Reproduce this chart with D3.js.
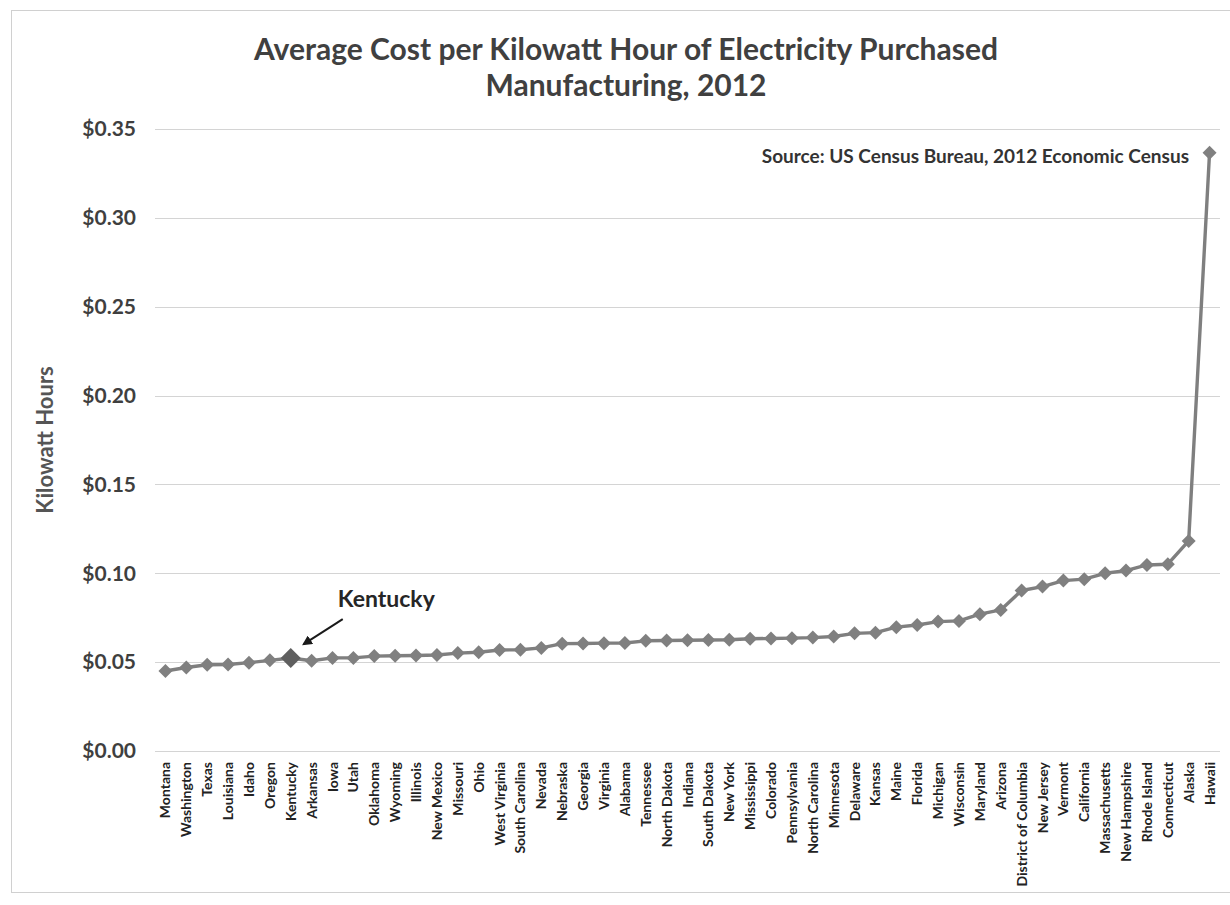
<!DOCTYPE html>
<html>
<head>
<meta charset="utf-8">
<script src="https://cdn.jsdelivr.net/npm/d3@7"></script>
<style>
  html, body { margin: 0; padding: 0; background: #fff; }
  svg { display: block; font-family: Lato, "Open Sans", sans-serif; }
</style>
</head>
<body>
<svg id="chart" width="1230" height="905"></svg>
<script>
// States sorted by average cost of purchased electricity (manufacturing, 2012)
const states = [
  "Montana", "Washington", "Texas", "Louisiana", "Idaho", "Oregon", "Kentucky",
  "Arkansas", "Iowa", "Utah", "Oklahoma", "Wyoming", "Illinois", "New Mexico",
  "Missouri", "Ohio", "West Virginia", "South Carolina", "Nevada", "Nebraska",
  "Georgia", "Virginia", "Alabama", "Tennessee", "North Dakota", "Indiana",
  "South Dakota", "New York", "Mississippi", "Colorado", "Pennsylvania",
  "North Carolina", "Minnesota", "Delaware", "Kansas", "Maine", "Florida",
  "Michigan", "Wisconsin", "Maryland", "Arizona", "District of Columbia",
  "New Jersey", "Vermont", "California", "Massachusetts", "New Hampshire",
  "Rhode Island", "Connecticut", "Alaska", "Hawaii"
];

// Dollars per kilowatt hour
const costPerKwh = [
  0.0450, 0.0470, 0.0485, 0.0487, 0.0497, 0.0510, 0.0523,
  0.0508, 0.0524, 0.0524, 0.0534, 0.0536, 0.0537, 0.0540,
  0.0551, 0.0556, 0.0568, 0.0570, 0.0580, 0.0604,
  0.0605, 0.0607, 0.0608, 0.0620, 0.0622, 0.0623,
  0.0625, 0.0626, 0.0632, 0.0633, 0.0635,
  0.0638, 0.0644, 0.0662, 0.0666, 0.0697, 0.0709,
  0.0728, 0.0732, 0.0770, 0.0794, 0.0903,
  0.0925, 0.0959, 0.0967, 0.1000, 0.1015,
  0.1047, 0.1051, 0.1182, 0.3367
];

const yTicks = [0, 0.05, 0.10, 0.15, 0.20, 0.25, 0.30, 0.35];
const highlight = "Kentucky";

const svg = d3.select("#chart");
const W = 1230, H = 905;
const margin = { left: 155, right: 10, top: 129, bottom: 154 };
const plotW = W - margin.left - margin.right;
const plotH = H - margin.top - margin.bottom;

// outer frame
svg.append("rect")
  .attr("x", 11.5).attr("y", 10.5)
  .attr("width", 1220).attr("height", 882)
  .attr("fill", "none").attr("stroke", "#d0d0d0").attr("stroke-width", 1);

const g = svg.append("g").attr("transform", `translate(${margin.left},${margin.top})`);

const x = d3.scaleBand().domain(states).range([0, plotW]).padding(0);
const y = d3.scaleLinear().domain([0, 0.35]).range([plotH, 0]);

// horizontal gridlines
g.append("g")
  .selectAll("line")
  .data(yTicks)
  .join("line")
  .attr("x1", 0).attr("x2", plotW)
  .attr("y1", d => Math.round(y(d)) + 0.5).attr("y2", d => Math.round(y(d)) + 0.5)
  .attr("stroke", "#d4d4d4").attr("stroke-width", 1.2);

// y axis labels
const yAxis = g.append("g")
  .call(d3.axisLeft(y).tickValues(yTicks).tickFormat(d3.format("$.2f")).tickSize(0).tickPadding(19));
yAxis.select(".domain").remove();
yAxis.selectAll("text")
  .attr("font-family", "Lato, sans-serif")
  .attr("font-size", 21).attr("font-weight", 700).attr("fill", "#3f3f3f");

// x axis (category) labels
const xAxis = g.append("g")
  .attr("transform", `translate(0,${plotH})`)
  .call(d3.axisBottom(x).tickSize(0).tickPadding(0));
xAxis.select(".domain").remove();
xAxis.selectAll("text")
  .attr("font-family", "Lato, sans-serif")
  .attr("font-size", 14).attr("font-weight", 700).attr("fill", "#222")
  .attr("text-anchor", "end")
  .attr("dy", null)
  .attr("transform", "translate(5,11) rotate(-90)");

const cx = d => x(d) + x.bandwidth() / 2;

// the line
const line = d3.line()
  .x((d, i) => cx(states[i]))
  .y(d => y(d));
g.append("path")
  .datum(costPerKwh)
  .attr("d", line)
  .attr("fill", "none")
  .attr("stroke", "#7f7f7f")
  .attr("stroke-width", 3.4)
  .attr("stroke-linejoin", "round");

// diamond markers
g.append("g")
  .selectAll("path")
  .data(costPerKwh)
  .join("path")
  .attr("transform", (d, i) => `translate(${cx(states[i])},${y(d)})`)
  .attr("d", (d, i) => {
    const r = states[i] === highlight ? 10 : 7;
    return `M0,${-r}L${r},0L0,${r}L${-r},0Z`;
  })
  .attr("fill", (d, i) => states[i] === highlight ? "#5f5f5f" : "#808080");

// annotation for the highlighted state
const hi = states.indexOf(highlight);
const hx = cx(highlight), hy = y(costPerKwh[hi]);
svg.append("defs").append("marker")
  .attr("id", "arrowhead")
  .attr("viewBox", "0 0 10 10")
  .attr("refX", 8).attr("refY", 5)
  .attr("markerWidth", 5).attr("markerHeight", 5)
  .attr("orient", "auto")
  .append("path").attr("d", "M0,0L10,5L0,10Z").attr("fill", "#1a1a1a");
g.append("line")
  .attr("x1", hx + 52).attr("y1", hy - 39)
  .attr("x2", hx + 13).attr("y2", hy - 14)
  .attr("stroke", "#1a1a1a").attr("stroke-width", 2)
  .attr("marker-end", "url(#arrowhead)");
g.append("text")
  .attr("x", hx + 47).attr("y", hy - 51)
  .attr("font-size", 23).attr("font-weight", 700).attr("fill", "#262626")
  .text("Kentucky");

// title
const title = svg.append("text")
  .attr("x", 626).attr("text-anchor", "middle")
  .attr("font-size", 30).attr("font-weight", 700).attr("fill", "#404040");
title.append("tspan").attr("x", 626).attr("y", 60).text("Average Cost per Kilowatt Hour of Electricity Purchased");
title.append("tspan").attr("x", 626).attr("y", 96).text("Manufacturing, 2012");

// source note
svg.append("text")
  .attr("x", 1189).attr("y", 163)
  .attr("text-anchor", "end")
  .attr("font-size", 19).attr("font-weight", 700).attr("fill", "#333")
  .text("Source: US Census Bureau, 2012 Economic Census");

// y axis title
svg.append("text")
  .attr("transform", `translate(53,${margin.top + plotH / 2}) rotate(-90)`)
  .attr("text-anchor", "middle")
  .attr("font-size", 22).attr("font-weight", 700).attr("fill", "#555")
  .text("Kilowatt Hours");
</script>
</body>
</html>
